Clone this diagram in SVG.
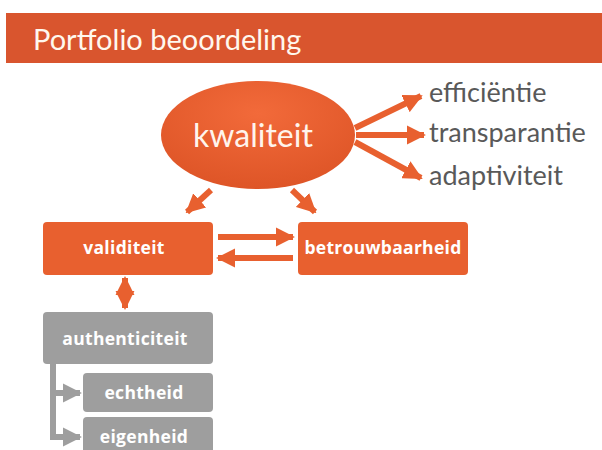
<svg xmlns="http://www.w3.org/2000/svg" width="602" height="450" viewBox="0 0 602 450">
<defs>
<style>
.title{font-family:Lato,"Open Sans",sans-serif;font-size:29px;fill:#FFF8EE}
.big{font-family:Lato,"Open Sans",sans-serif;font-size:32px;fill:#FFF4EC}
.side{font-family:Lato,"Open Sans",sans-serif;font-size:27px;fill:#595959}
.lbl{font-family:"Open Sans",sans-serif;font-size:17.5px;font-weight:bold;fill:#FFFFFF;text-anchor:middle;letter-spacing:0.3px}
.or{fill:#E8602F}
.gr{fill:#9E9E9E}
.ca{stroke:#E8602F;stroke-width:6;fill:none}
.cg{stroke:#9E9E9E;stroke-width:6;fill:none}
</style>
<marker id="ah" viewBox="0 0 10 10" refX="9" refY="5" markerWidth="3.2" markerHeight="3.2" markerUnits="strokeWidth" orient="auto-start-reverse">
<path d="M0,0 L10,5 L0,10 z" fill="#E8602F"/>
</marker>
<marker id="ahg" viewBox="0 0 10 10" refX="9" refY="5" markerWidth="3.2" markerHeight="3.2" markerUnits="strokeWidth" orient="auto">
<path d="M0,0 L10,5 L0,10 z" fill="#9E9E9E"/>
</marker>
<radialGradient id="eg" cx="0.5" cy="0.3" r="0.7">
<stop offset="0" stop-color="#F26A3A"/>
<stop offset="1" stop-color="#DE5527"/>
</radialGradient>
</defs>
<rect x="0" y="0" width="602" height="450" fill="#FFFFFF"/>
<g id="header">
<rect x="6" y="13" width="596" height="50" fill="#D9552E"/>
<text class="title" x="33" y="50">Portfolio beoordeling</text>
</g>
<g id="connectors">
<path class="ca" d="M355,128 L421,96" marker-end="url(#ah)"/>
<path class="ca" d="M356,135 L424,135" marker-end="url(#ah)"/>
<path class="ca" d="M355,142 L421,178" marker-end="url(#ah)"/>
<path class="ca" d="M211,190 L187,212" marker-end="url(#ah)"/>
<path class="ca" d="M292,190 L315,212" marker-end="url(#ah)"/>
<path class="ca" d="M218,237 L293,237" marker-end="url(#ah)"/>
<path class="ca" d="M293,258 L218,258" marker-end="url(#ah)"/>
<path class="ca" d="M125,278 L125,308" marker-start="url(#ah)" marker-end="url(#ah)"/>
<path class="cg" d="M53,364 L53,437 L80,437" marker-end="url(#ahg)"/>
<path class="cg" d="M53,393 L80,393" marker-end="url(#ahg)"/>
</g>
<g id="kwaliteit">
<ellipse cx="258" cy="135" rx="97" ry="54" fill="url(#eg)"/>
<text class="big" x="253" y="147" text-anchor="middle">kwaliteit</text>
</g>
<g id="efficientie"><text class="side" x="429" y="102">efficiëntie</text></g>
<g id="transparantie"><text class="side" x="429" y="142">transparantie</text></g>
<g id="adaptiviteit"><text class="side" x="429" y="185">adaptiviteit</text></g>
<g id="validiteit">
<rect class="or" x="43" y="222" width="170" height="53" rx="4"/>
<text class="lbl" x="124" y="254">validiteit</text>
</g>
<g id="betrouwbaarheid">
<rect class="or" x="298" y="222" width="170" height="53" rx="4"/>
<text class="lbl" x="383" y="254">betrouwbaarheid</text>
</g>
<g id="authenticiteit">
<rect class="gr" x="43" y="312" width="170" height="52" rx="4"/>
<text class="lbl" x="125" y="345">authenticiteit</text>
</g>
<g id="echtheid">
<rect class="gr" x="83" y="373" width="130" height="39" rx="4"/>
<text class="lbl" x="144" y="399">echtheid</text>
</g>
<g id="eigenheid">
<rect class="gr" x="83" y="417" width="130" height="40" rx="4"/>
<text class="lbl" x="144" y="443">eigenheid</text>
</g>
</svg>
